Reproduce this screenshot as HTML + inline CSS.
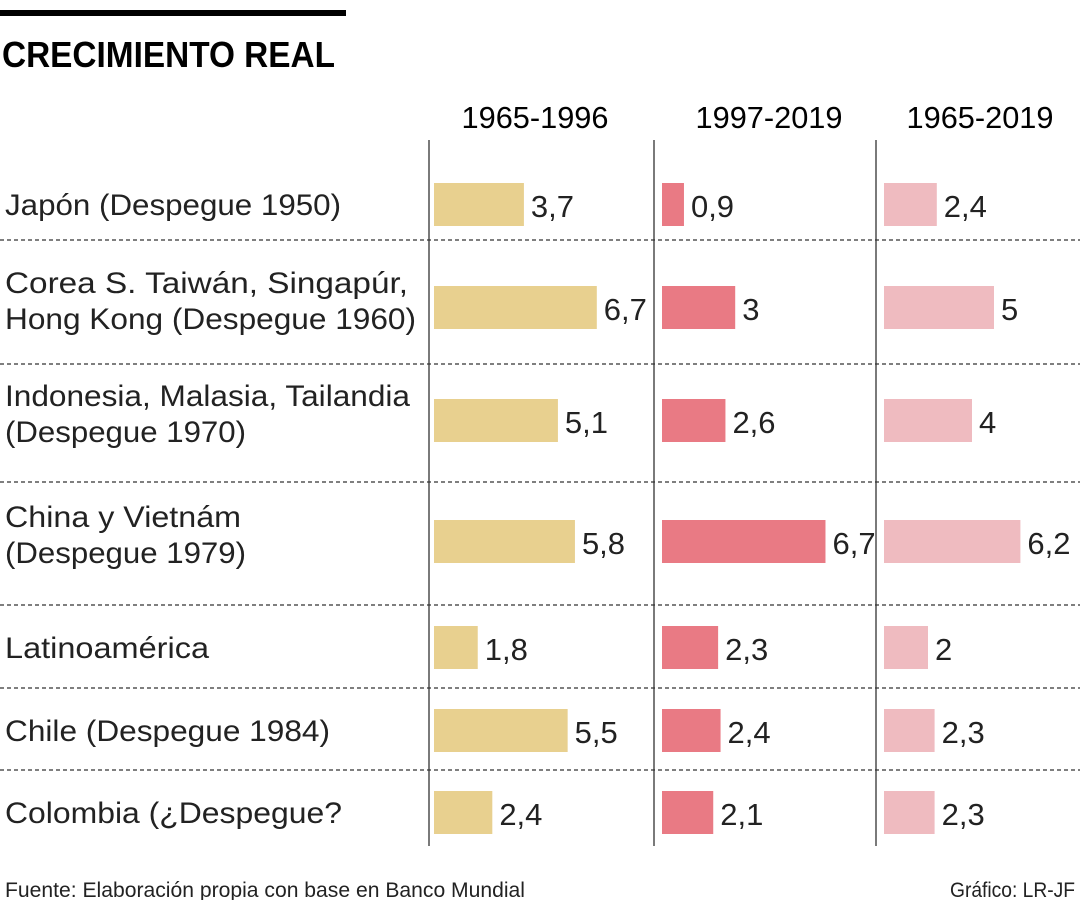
<!DOCTYPE html>
<html><head><meta charset="utf-8"><style>
html,body{margin:0;padding:0;background:#fff;}
svg{display:block;font-family:"Liberation Sans",sans-serif;}
</style></head><body>
<svg id="chart" width="1080" height="900" viewBox="0 0 1080 900" xmlns="http://www.w3.org/2000/svg">
<rect x="0" y="10" width="346" height="6" fill="#000"/>
<text x="2" y="67" font-size="36" font-weight="bold" textLength="333" lengthAdjust="spacingAndGlyphs">CRECIMIENTO REAL</text>
<g id="headers"></g>
<g id="grid"></g>
<g id="labels"></g>
<g id="bars"></g>
<text x="5" y="897" font-size="21" fill="#222" textLength="520" lengthAdjust="spacingAndGlyphs">Fuente: Elaboración propia con base en Banco Mundial</text>
<text x="950" y="897" font-size="21" fill="#222" textLength="125" lengthAdjust="spacingAndGlyphs">Gráfico: LR-JF</text>
</svg>
<script>
const categories = ["Japón (Despegue 1950)","Corea S. Taiwán, Singapúr,|Hong Kong (Despegue 1960)","Indonesia, Malasia, Tailandia|(Despegue 1970)","China y Vietnám|(Despegue 1979)","Latinoamérica","Chile (Despegue 1984)","Colombia (¿Despegue?"];
const periods = ["1965-1996","1997-2019","1965-2019"];
const s1 = [3.7,6.7,5.1,5.8,1.8,5.5,2.4];
const s2 = [0.9,3,2.6,6.7,2.3,2.4,2.1];
const s3 = [2.4,5,4,6.2,2,2.3,2.3];
const labels1 = ["3,7","6,7","5,1","5,8","1,8","5,5","2,4"];
const labels2 = ["0,9","3","2,6","6,7","2,3","2,4","2,1"];
const labels3 = ["2,4","5","4","6,2","2","2,3","2,3"];

const NS="http://www.w3.org/2000/svg";
function mk(tag,attrs,parent,text){const e=document.createElementNS(NS,tag);for(const k in attrs)e.setAttribute(k,attrs[k]);if(text!==undefined)e.textContent=text;parent.appendChild(e);return e;}
const rowCenters=[204,307,420,541,647,730,812];
const seps=[240,364,482,605,688,770];
const labelLens={"Japón (Despegue 1950)":336,"Corea S. Taiwán, Singapúr,":403,"Hong Kong (Despegue 1960)":411,"Indonesia, Malasia, Tailandia":405,"(Despegue 1970)":241,"China y Vietnám":236,"(Despegue 1979)":241,"Latinoamérica":204,"Chile (Despegue 1984)":325,"Colombia (¿Despegue?":337};
const cols=[{x0:434,scale:24.3,color:"#e8d08f",vals:s1,lab:labels1},{x0:662,scale:24.4,color:"#e97a84",vals:s2,lab:labels2},{x0:884,scale:22,color:"#efbbc0",vals:s3,lab:labels3}];
const headX=[535,769,980];
const H=document.getElementById('headers'),G=document.getElementById('grid'),L=document.getElementById('labels'),B=document.getElementById('bars');
periods.forEach((p,i)=>{
 const t=mk('text',{x:headX[i],y:128,'font-size':31,'text-anchor':'middle',textLength:147,lengthAdjust:'spacingAndGlyphs'},H,p);
 
 
});
[429,654,876].forEach((x,i)=>{
 const l=mk('line',{x1:x,x2:x,y1:140,y2:846,stroke:'#333','stroke-width':1.3},G);
 
 
});
seps.forEach(y=>{
 const l=mk('line',{x1:0,x2:1080,y1:y,y2:y,stroke:'#333','stroke-width':1.2,'stroke-dasharray':'4,3'},G);
 
 
});
categories.forEach((c,r)=>{
 const lines=c.split('|');
 const cy=rowCenters[r];
 lines.forEach((ln,j)=>{
  const y= lines.length===1? cy+11 : cy-14+j*36;
  const t=mk('text',{x:5,y:y,'font-size':30,fill:'#222',textLength:labelLens[ln]||300,lengthAdjust:'spacingAndGlyphs'},L,ln);
  
  
 });
 cols.forEach((col,ci)=>{
  const w=col.vals[r]*col.scale;
  const b=mk('rect',{x:col.x0,y:cy-21,width:w,height:43,fill:col.color},B);
  
  
  const t=mk('text',{x:col.x0+w+7,y:cy+13,'font-size':31,fill:'#222'},B,col.lab[r]);
  
  
 });
});
</script>
</body></html>
